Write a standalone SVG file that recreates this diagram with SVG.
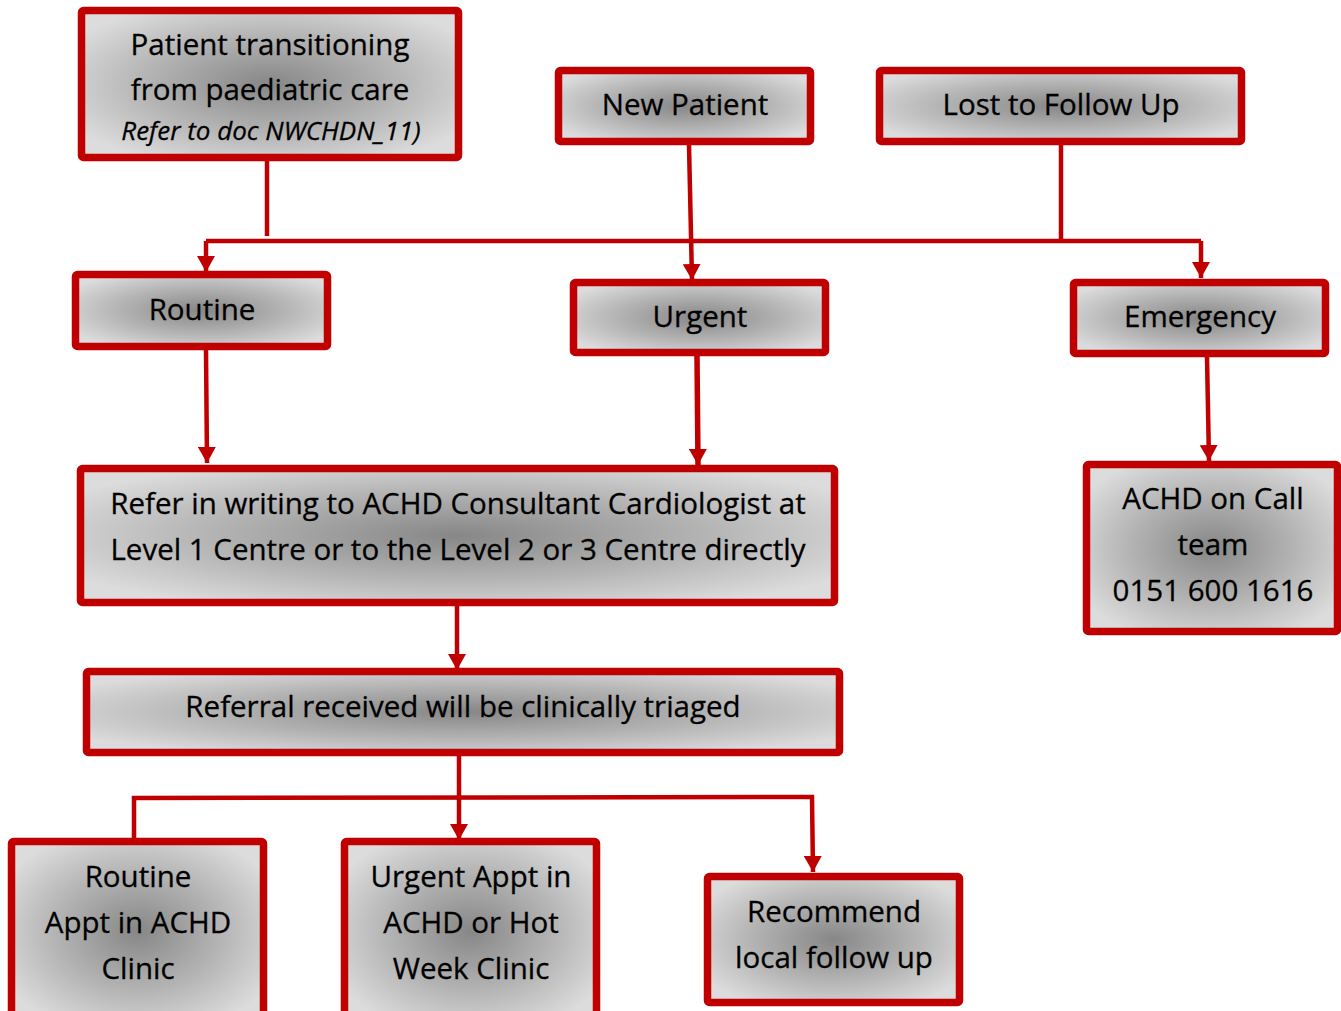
<svg xmlns="http://www.w3.org/2000/svg" width="1341" height="1011" viewBox="0 0 1341 1011">
<defs>
<radialGradient id="g" cx="0.5" cy="0.5" r="0.6">
<stop offset="0" stop-color="#878787"/>
<stop offset="0.55" stop-color="#b4b4b4"/>
<stop offset="1" stop-color="#dcdcdc"/>
</radialGradient>
<marker id="ah" markerWidth="18" markerHeight="18" refX="16" refY="9" orient="auto" markerUnits="userSpaceOnUse">
<path d="M0,0 L16,9 L0,18 Z" fill="#c00000"/>
</marker>
</defs>
<style>
.box{fill:url(#g);stroke:#c00000;stroke-width:7.5;}
.t{font-family:"Open Sans","Noto Sans",sans-serif;font-size:29.5px;fill:#000;text-anchor:middle;stroke:#000;stroke-width:0.3;}
.i{font-style:italic;font-size:26px;}
.c{fill:none;stroke:#c00000;stroke-width:4.5;}
</style>
<g id="connectors">
<polyline class="c" points="267,161 267,236"/>
<polyline class="c" points="206,241 1201,241"/>
<polyline class="c" points="206,241 206,272" marker-end="url(#ah)"/>
<polyline class="c" points="1061,145 1061,241"/>
<polyline class="c" points="1201,241 1201,278" marker-end="url(#ah)"/>
<polyline class="c" points="689,145 692,280" marker-end="url(#ah)"/>
<polyline class="c" points="206,350 207,463" marker-end="url(#ah)"/>
<polyline class="c" style="stroke-width:5.5" points="697,356 698,465" marker-end="url(#ah)"/>
<polyline class="c" points="1207,357 1209,461" marker-end="url(#ah)"/>
<polyline class="c" points="457,606 457,670" marker-end="url(#ah)"/>
<polyline class="c" points="459,756 459,840" marker-end="url(#ah)"/>
<polyline class="c" points="134,840 134,798 812,797 813,872" marker-end="url(#ah)"/>
</g>
<g id="n1"><rect class="box" x="81.5" y="10.5" width="377" height="147" rx="2"/>
<text class="t" x="270" y="55">Patient transitioning</text>
<text class="t" x="270" y="100">from paediatric care</text>
<text class="t i" x="271" y="140">Refer to doc NWCHDN_11)</text></g>
<g id="n2"><rect class="box" x="558.5" y="70.5" width="252" height="71" rx="2"/>
<text class="t" x="685" y="115">New Patient</text></g>
<g id="n3"><rect class="box" x="879.5" y="70.5" width="362" height="71" rx="2"/>
<text class="t" x="1061" y="115">Lost to Follow Up</text></g>
<g id="n4"><rect class="box" x="75.5" y="274.5" width="252" height="72" rx="2"/>
<text class="t" x="202" y="320">Routine</text></g>
<g id="n5"><rect class="box" x="573.5" y="282.5" width="252" height="70" rx="2"/>
<text class="t" x="700" y="327">Urgent</text></g>
<g id="n6"><rect class="box" x="1073.5" y="282.5" width="252" height="71" rx="2"/>
<text class="t" x="1200" y="327">Emergency</text></g>
<g id="n7"><rect class="box" x="80.5" y="468.5" width="754" height="134" rx="2"/>
<text class="t" x="458" y="514">Refer in writing to ACHD Consultant Cardiologist at</text>
<text class="t" x="458" y="560">Level 1 Centre or to the Level 2 or 3 Centre directly</text></g>
<g id="n8"><rect class="box" x="1086.5" y="464.5" width="251" height="167" rx="2"/>
<text class="t" x="1213" y="509">ACHD on Call</text>
<text class="t" x="1213" y="555">team</text>
<text class="t" x="1213" y="601">0151 600 1616</text></g>
<g id="n9"><rect class="box" x="86.5" y="671.5" width="753" height="81" rx="2"/>
<text class="t" x="463" y="717">Referral received will be clinically triaged</text></g>
<g id="n10"><rect class="box" x="11.5" y="841.5" width="252" height="180" rx="2"/>
<text class="t" x="138" y="887">Routine</text>
<text class="t" x="138" y="933">Appt in ACHD</text>
<text class="t" x="138" y="979">Clinic</text></g>
<g id="n11"><rect class="box" x="344.5" y="841.5" width="252" height="180" rx="2"/>
<text class="t" x="471" y="887">Urgent Appt in</text>
<text class="t" x="471" y="933">ACHD or Hot</text>
<text class="t" x="471" y="979">Week Clinic</text></g>
<g id="n12"><rect class="box" x="707.5" y="876.5" width="252" height="126" rx="2"/>
<text class="t" x="834" y="922">Recommend</text>
<text class="t" x="834" y="968">local follow up</text></g>
</svg>
